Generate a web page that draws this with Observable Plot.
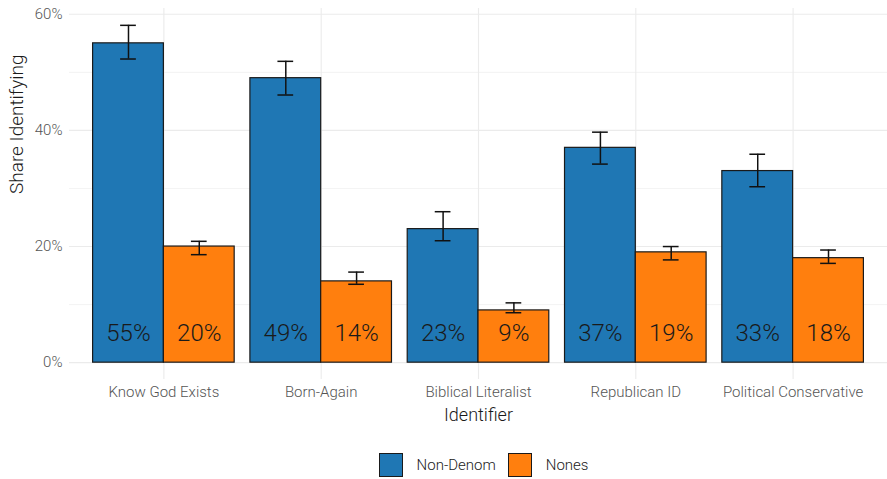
<!DOCTYPE html>
<html>
<head>
<meta charset="utf-8">
<script src="https://cdn.jsdelivr.net/npm/d3@7"></script>
<script src="https://cdn.jsdelivr.net/npm/@observablehq/plot@0.6"></script>
<style>
  body { margin: 0; background: #fff; font-family: Roboto, sans-serif; font-weight: 300; }
  #chart svg { display: block; }
  .legend { display: flex; justify-content: center; align-items: center; margin-top: 21px; padding-left: 80px; font-size: 15px; color: #1a1a1a; }
  .legend .key { width: 22px; height: 22px; border: 1px solid #1a1a1a; margin-right: 14px; }
  .legend .item { display: flex; align-items: center; margin: 0 6px; }
</style>
</head>
<body>
<div id="chart"></div>
<script>
// Identifier categories along the x axis
const categories = ["Know God Exists", "Born-Again", "Biblical Literalist", "Republican ID", "Political Conservative"];
const groups = ["Non-Denom", "Nones"];
const colors = ["#1f77b4", "#ff7f0e"];

// Share identifying (%) with confidence bounds
const nonDenom      = [55, 49, 23, 37, 33];
const nonDenomLow   = [52.3, 46.1, 21.0, 34.2, 30.3];
const nonDenomHigh  = [58.1, 51.9, 26.0, 39.7, 35.9];
const nones         = [20, 14, 9, 19, 18];
const nonesLow      = [18.6, 13.5, 8.6, 17.7, 17.1];
const nonesHigh     = [20.9, 15.6, 10.3, 20.0, 19.4];

const yTicks = [0, 20, 40, 60];
const yMinor = [10, 30, 50];

const barW = 0.45;   // each bar's width in category units (two bars fill 0.9)
const capW = 0.05;   // half-width of error bar caps

const rows = [];
categories.forEach((c, i) => {
  rows.push({category: c, group: groups[0], g: 0, i, value: nonDenom[i], lo: nonDenomLow[i], hi: nonDenomHigh[i]});
  rows.push({category: c, group: groups[1], g: 1, i, value: nones[i], lo: nonesLow[i], hi: nonesHigh[i]});
});
const x1 = d => d.i + (d.g - 1) * barW;
const x2 = d => d.i + d.g * barW;
const xc = d => d.i + (d.g - 0.5) * barW;

const chart = Plot.plot({
  width: 887,
  height: 432,
  marginLeft: 69,
  marginRight: 0,
  marginTop: 8,
  marginBottom: 53,
  style: {fontFamily: "Roboto, sans-serif", fontWeight: 300, background: "#fff"},
  x: {domain: [-0.6, categories.length - 0.4], axis: null},
  y: {domain: [-2.9, 61], axis: null},
  color: {domain: groups, range: colors},
  marks: [
    // panel grid
    Plot.ruleY(yMinor, {stroke: "#ebebeb", strokeWidth: 0.6}),
    Plot.ruleY(yTicks, {stroke: "#ebebeb", strokeWidth: 1.1}),
    Plot.ruleX(d3.range(categories.length), {stroke: "#ebebeb", strokeWidth: 1.1}),
    // bars
    Plot.rectY(rows, {x1, x2, y1: 0, y2: "value", fill: "group", stroke: "#1a1a1a", strokeWidth: 1.2}),
    // error bars
    Plot.ruleX(rows, {x: xc, y1: "lo", y2: "hi", stroke: "#111", strokeWidth: 1.5}),
    Plot.ruleY(rows, {y: "lo", x1: d => xc(d) - capW, x2: d => xc(d) + capW, stroke: "#111", strokeWidth: 1.5}),
    Plot.ruleY(rows, {y: "hi", x1: d => xc(d) - capW, x2: d => xc(d) + capW, stroke: "#111", strokeWidth: 1.5}),
    // value labels near the base of each bar
    Plot.text(rows, {x: xc, y: 0, dy: -29, text: d => d.value + "%", fontSize: 24, fill: "#1a1a1a"}),
    // axes
    Plot.axisY(yTicks, {tickSize: 0, tickPadding: 7, tickFormat: d => d + "%", fontSize: 15, fill: "#555", label: null}),
    Plot.axisX(d3.range(categories.length), {tickSize: 0, tickPadding: 7, tickFormat: i => categories[i], fontSize: 15, fill: "#555", label: null}),
    Plot.text(["Identifier"], {frameAnchor: "bottom", dy: 41, fontSize: 18, fill: "#1a1a1a"}),
    Plot.text(["Share Identifying"], {frameAnchor: "left", dx: -53, rotate: -90, fontSize: 19, fill: "#1a1a1a"})
  ]
});
document.getElementById("chart").append(chart);

// legend below the plot
const legend = d3.select("body").append("div").attr("class", "legend");
groups.forEach((g, k) => {
  const item = legend.append("div").attr("class", "item");
  item.append("div").attr("class", "key").style("background", colors[k]);
  item.append("span").text(g);
});
</script>
</body>
</html>
